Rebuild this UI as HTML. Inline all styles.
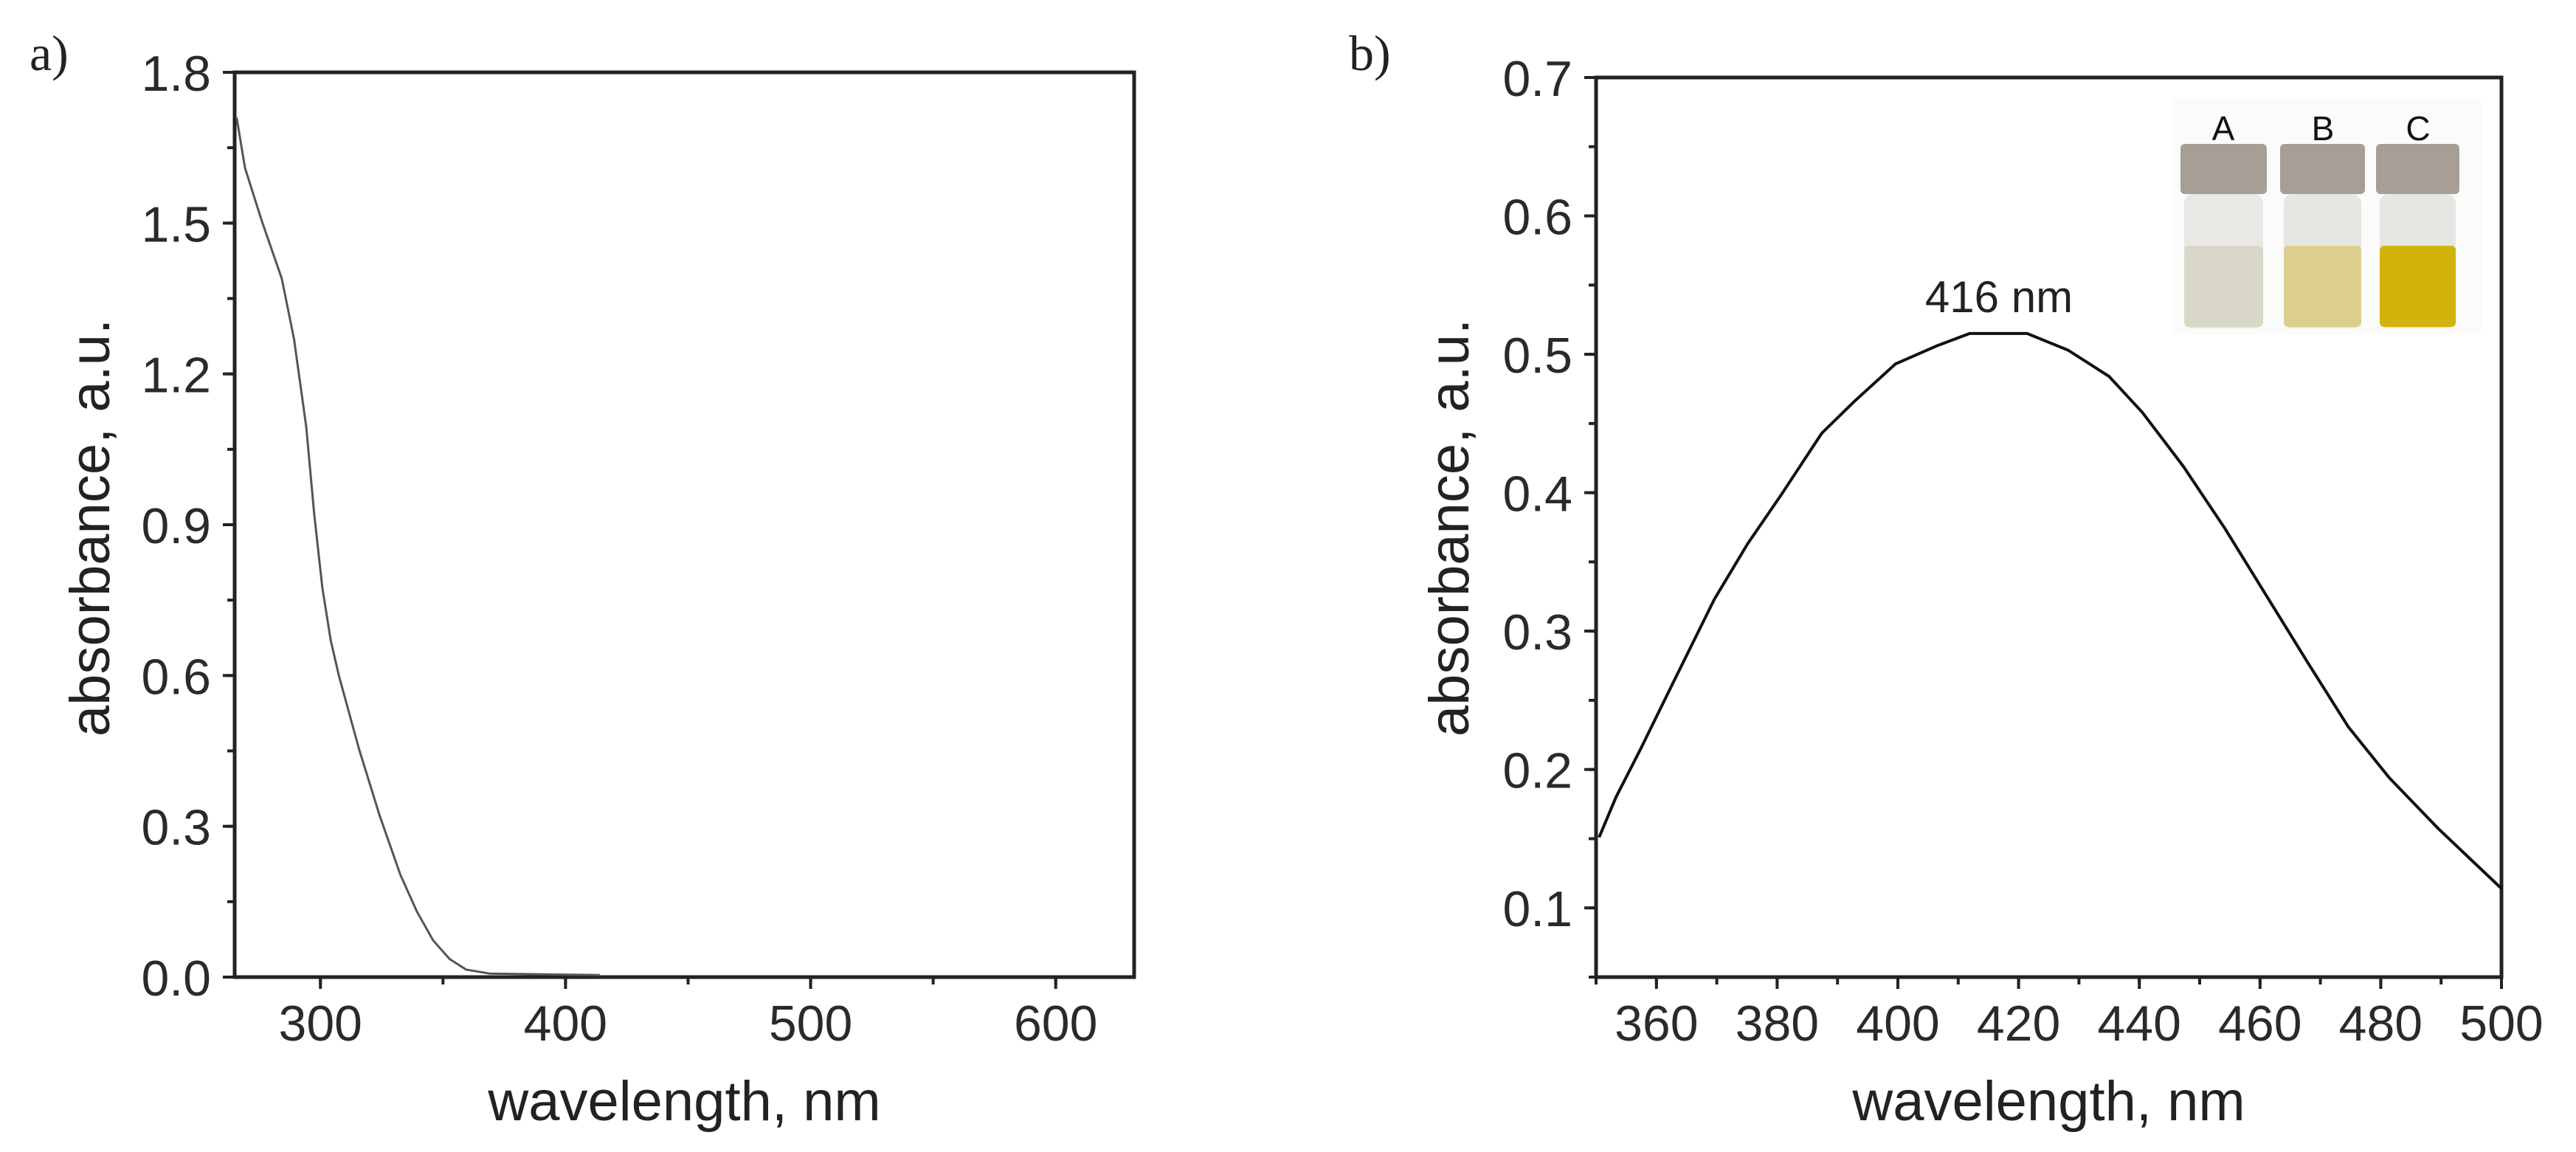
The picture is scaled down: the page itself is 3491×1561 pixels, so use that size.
<!DOCTYPE html>
<html><head><meta charset="utf-8"><style>
html,body{margin:0;padding:0;background:#fff;}
svg{display:block;font-family:"Liberation Sans",Arial,sans-serif;}
</style></head><body>
<svg id="fig" width="3491" height="1561" viewBox="0 0 3491 1561" xmlns="http://www.w3.org/2000/svg">
<text x="40" y="95" font-family="Liberation Serif,serif" font-size="68" fill="#222">a)</text>
<text x="1828" y="95" font-family="Liberation Serif,serif" font-size="68" fill="#222">b)</text>
<g id="pa"></g>
<g id="pb"></g>
<g>
<rect x="2943" y="133" width="420" height="320" fill="#fbfbfb"/>
<text x="3013" y="190" text-anchor="middle" font-size="46" fill="#111">A</text>
<text x="3148" y="190" text-anchor="middle" font-size="46" fill="#111">B</text>
<text x="3277" y="190" text-anchor="middle" font-size="46" fill="#111">C</text>
<g><rect x="2955" y="195" width="117" height="68" rx="6" fill="#a79f95"/><rect x="2960" y="263" width="107" height="182" rx="12" fill="#e8e8e5"/><rect x="2960" y="333" width="107" height="110" rx="6" fill="#d9d8c8"/></g>
<g><rect x="3090" y="195" width="115" height="68" rx="6" fill="#a79f95"/><rect x="3095" y="263" width="105" height="182" rx="12" fill="#e6e6e2"/><rect x="3095" y="333" width="105" height="110" rx="6" fill="#dccf8e"/></g>
<g><rect x="3220" y="195" width="113" height="68" rx="6" fill="#a79f95"/><rect x="3225" y="263" width="103" height="182" rx="12" fill="#e6e6e2"/><rect x="3225" y="333" width="103" height="110" rx="6" fill="#d2b30c"/></g>
</g>
<text x="2709" y="423" text-anchor="middle" font-size="60" fill="#222">416 nm</text>
</svg>
<script>
// Panel a data
const aWavelengths=[265.8,269.2,275.9,284.2,289.2,294.2,297.5,300.8,304.2,307.5,315.8,324.2,332.6,339.3,346,352.7,359.4,369,414];
const aAbsorbance=[1.71,1.61,1.507,1.39,1.27,1.095,0.92,0.774,0.67,0.60,0.453,0.321,0.204,0.131,0.073,0.036,0.015,0.007,0.004];
const aXTicks=[300,400,500,600];
const aYTicks=[0.0,0.3,0.6,0.9,1.2,1.5,1.8];
// Panel b data
const bWavelengths=[350.5,353.3,357.4,362.8,369.6,375.1,380.6,387.4,392.8,399.6,406.4,411.9,421.4,428.2,435,440.5,447.3,454.2,461,467.8,474.6,481.4,489.6,500];
const bAbsorbance=[0.151,0.180,0.215,0.263,0.323,0.363,0.398,0.443,0.466,0.493,0.506,0.515,0.515,0.503,0.484,0.458,0.419,0.374,0.326,0.278,0.231,0.194,0.157,0.114];
const bXTicks=[360,380,400,420,440,460,480,500];
const bYTicks=[0.1,0.2,0.3,0.4,0.5,0.6,0.7];

const NS="http://www.w3.org/2000/svg";
function mk(parent,tag,attrs,txt){const e=document.createElementNS(NS,tag);for(const k in attrs)e.setAttribute(k,attrs[k]);if(txt!==undefined)e.textContent=txt;parent.appendChild(e);return e;}

function panel(g,cfg){
  const sx=v=>cfg.L+(v-cfg.x0)/(cfg.x1-cfg.x0)*(cfg.R-cfg.L);
  const sy=v=>cfg.B-(v-cfg.y0)/(cfg.y1-cfg.y0)*(cfg.B-cfg.T);
  const frame=mk(g,'rect',{x:cfg.L,y:cfg.T,width:cfg.R-cfg.L,height:cfg.B-cfg.T,fill:'none',stroke:'#222','stroke-width':5});
  
  
  for(let v=cfg.xmStart;v<=cfg.x1+1e-9;v+=cfg.xm){
    const t=mk(g,'line',{x1:sx(v),x2:sx(v),y1:cfg.B,y2:cfg.B+10,stroke:'#222','stroke-width':4});
    
    
  }
  for(let v=cfg.ymStart;v<=cfg.y1+1e-9;v+=cfg.ym){
    const t=mk(g,'line',{x1:cfg.L-10,x2:cfg.L,y1:sy(v),y2:sy(v),stroke:'#222','stroke-width':4});
    
    
  }
  cfg.xt.forEach(v=>{
    const t=mk(g,'line',{x1:sx(v),x2:sx(v),y1:cfg.B,y2:cfg.B+16,stroke:'#222','stroke-width':4});
    
    
    const l=mk(g,'text',{x:sx(v),y:1410,'text-anchor':'middle','font-size':68,fill:'#2a2a2a'},String(v));
    
    
  });
  cfg.yt.forEach(v=>{
    const t=mk(g,'line',{x1:cfg.L-16,x2:cfg.L,y1:sy(v),y2:sy(v),stroke:'#222','stroke-width':4});
    
    
    const l=mk(g,'text',{x:cfg.L-32,y:sy(v)+25,'text-anchor':'end','font-size':68,fill:'#2a2a2a'},v.toFixed(1));
    
    
  });
  const xt=mk(g,'text',{x:(cfg.L+cfg.R)/2,y:1518,'text-anchor':'middle','font-size':76,fill:'#222'},'wavelength, nm');
  
  
  const yt=mk(g,'text',{x:0,y:0,'text-anchor':'middle','font-size':76,fill:'#222',transform:`translate(${cfg.yTitleX},715) rotate(-90)`},'absorbance, a.u.');
  
  
  const d=cfg.xs.map((x,i)=>(i?'L':'M')+sx(x).toFixed(1)+','+sy(cfg.ys[i]).toFixed(1)).join(' ');
  const p=mk(g,'path',{d:d,fill:'none',stroke:cfg.lc,'stroke-width':cfg.lw,'stroke-linejoin':'round'});
  
  
}
panel(document.getElementById('pa'),{L:318,R:1537,T:98,B:1324,x0:265,x1:632,y0:0,y1:1.8,xt:aXTicks,yt:aYTicks,xm:50,xmStart:300,ym:0.15,ymStart:0,xs:aWavelengths,ys:aAbsorbance,yTitleX:148,lc:'#555',lw:3});
panel(document.getElementById('pb'),{L:2163,R:3390,T:105,B:1324,x0:350,x1:500,y0:0.05,y1:0.7,xt:bXTicks,yt:bYTicks,xm:10,xmStart:350,ym:0.05,ymStart:0.05,xs:bWavelengths,ys:bAbsorbance,yTitleX:1990,lc:'#111',lw:4});
</script>
</body></html>
